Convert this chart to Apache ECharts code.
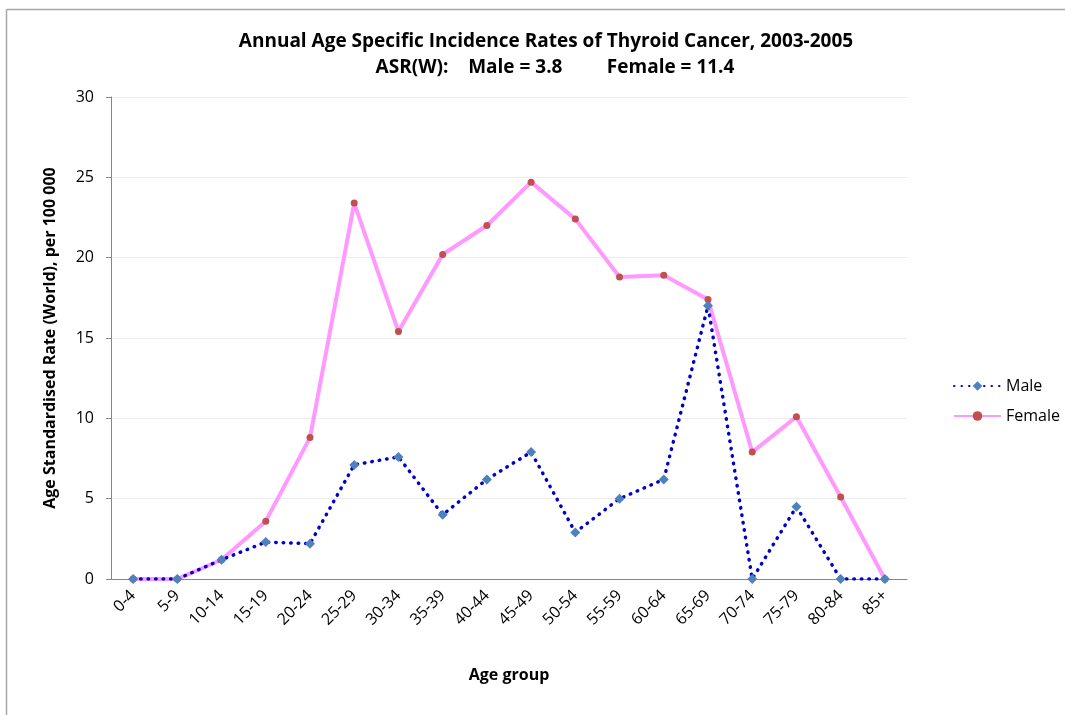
<!DOCTYPE html>
<html>
<head>
<meta charset="utf-8">
<script src="https://cdn.jsdelivr.net/npm/echarts@6/dist/echarts.min.js"></script>
<style>
html,body{margin:0;padding:0;background:#fff;}
#chart{width:1065px;height:715px;}
</style>
</head>
<body>
<div id="chart"></div>
<script>
const categories = ['0-4','5-9','10-14','15-19','20-24','25-29','30-34','35-39','40-44','45-49','50-54','55-59','60-64','65-69','70-74','75-79','80-84','85+'];
const maleValues = [0, 0, 1.2, 2.3, 2.2, 7.1, 7.6, 4.0, 6.2, 7.9, 2.9, 5.0, 6.2, 17.0, 0, 4.5, 0, 0];
const femaleValues = [0, 0, 1.2, 3.6, 8.8, 23.4, 15.4, 20.2, 22.0, 24.7, 22.4, 18.8, 18.9, 17.4, 7.9, 10.1, 5.1, 0];
const yTicks = [0, 5, 10, 15, 20, 25, 30];
const titleLine1 = 'Annual Age Specific Incidence Rates of Thyroid Cancer, 2003-2005';
const titleLine2 = 'ASR(W):    Male = 3.8         Female = 11.4';

const FONT = '"Liberation Sans Narrow", "Arial Narrow", "Open Sans", "Liberation Sans", sans-serif';

const chart = echarts.init(document.getElementById('chart'), null, {renderer: 'canvas'});
chart.setOption({
  backgroundColor: '#ffffff',
  animation: false,
  textStyle: {fontFamily: FONT},
  graphic: [
    {type: 'line', shape: {x1: 6.5, y1: 9.5, x2: 1065, y2: 9.5}, style: {stroke: '#a6a6a6', lineWidth: 1.5}},
    {type: 'line', shape: {x1: 6.5, y1: 9.5, x2: 6.5, y2: 715}, style: {stroke: '#a6a6a6', lineWidth: 1.5}}
  ],
  title: [
    {text: titleLine1, left: 541, top: 27, textAlign: 'center',
     textStyle: {fontFamily: FONT, fontSize: 19, fontWeight: 'bold', color: '#000'}},
    {text: titleLine2, left: 550, top: 53, textAlign: 'center',
     textStyle: {fontFamily: FONT, fontSize: 19, fontWeight: 'bold', color: '#000'}}
  ],
  legend: {
    orient: 'vertical',
    left: 948,
    top: 373,
    itemGap: 14,
    itemWidth: 47,
    itemHeight: 12,
    textStyle: {fontFamily: FONT, fontSize: 16, color: '#000'},
    data: ['Male', 'Female']
  },
  grid: {left: 111, right: 158, top: 97, bottom: 136, containLabel: false},
  xAxis: {
    type: 'category',
    data: categories,
    boundaryGap: true,
    name: 'Age group',
    nameLocation: 'middle',
    nameGap: 88,
    nameTextStyle: {fontFamily: FONT, fontSize: 16, fontWeight: 'bold', color: '#000'},
    axisLine: {lineStyle: {color: '#868686', width: 1}},
    axisTick: {show: false},
    axisLabel: {rotate: 45, interval: 0, margin: 14, fontFamily: FONT, fontSize: 16, color: '#000'}
  },
  yAxis: {
    type: 'value',
    min: yTicks[0],
    max: yTicks[yTicks.length - 1],
    interval: 5,
    name: 'Age Standardised Rate (World), per 100 000',
    nameLocation: 'middle',
    nameGap: 53,
    nameTextStyle: {fontFamily: FONT, fontSize: 16, fontWeight: 'bold', color: '#000'},
    axisLine: {show: true, lineStyle: {color: '#868686', width: 1}},
    axisTick: {show: true, inside: false, length: 5, lineStyle: {color: '#868686'}},
    axisLabel: {margin: 17, fontFamily: FONT, fontSize: 16, color: '#000'},
    splitLine: {show: true, lineStyle: {color: '#ececec', width: 1}}
  },
  series: [
    {
      name: 'Male',
      type: 'line',
      data: maleValues,
      z: 3,
      symbol: 'diamond',
      symbolSize: 10,
      itemStyle: {color: '#4f81bd'},
      lineStyle: {color: '#0000cc', width: 3.5, type: [0.5, 7], cap: 'round'}
    },
    {
      name: 'Female',
      type: 'line',
      data: femaleValues,
      z: 2,
      symbol: 'circle',
      symbolSize: 7,
      itemStyle: {color: '#c0504d'},
      lineStyle: {color: '#ff99ff', width: 4}
    }
  ]
});
</script>
</body>
</html>
